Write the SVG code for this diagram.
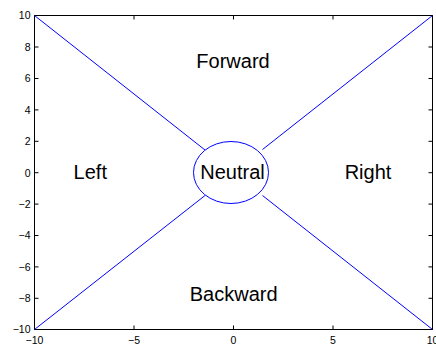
<svg xmlns="http://www.w3.org/2000/svg" width="436" height="347" viewBox="0 0 436 347">
<style>
.tk{font-family:"Liberation Sans",Arial,sans-serif;font-size:10.5px;fill:#000}
.yl{text-anchor:end}
.xl{text-anchor:middle}
.lb{font-family:"Liberation Sans",Arial,sans-serif;font-size:20px;fill:#000;text-anchor:middle}
.ln{stroke:#0000ff;stroke-width:1;fill:none}
.ax{stroke:#000;stroke-width:1;fill:none}
</style>
<rect width="436" height="347" fill="#fff"/>
<g id="axes">
<rect class="ax" x="34.5" y="15.5" width="398" height="314"/>
<path class="ax" d="M34.5 47h4M34.5 78.5h4M34.5 109.9h4M34.5 141.3h4M34.5 172.7h4M34.5 204.1h4M34.5 235.5h4M34.5 266.9h4M34.5 298.3h4
M432.5 47h-4M432.5 78.5h-4M432.5 109.9h-4M432.5 141.3h-4M432.5 172.7h-4M432.5 204.1h-4M432.5 235.5h-4M432.5 266.9h-4M432.5 298.3h-4
M134 329.5v-4M233.5 329.5v-4M333 329.5v-4M134 15.5v4M233.5 15.5v4M333 15.5v4"/>
<g class="tk yl">
<text x="30.5" y="19.2">10</text>
<text x="30.5" y="50.8">8</text>
<text x="30.5" y="82.2">6</text>
<text x="30.5" y="113.6">4</text>
<text x="30.5" y="145">2</text>
<text x="30.5" y="176.5">0</text>
<text x="30.5" y="207.9">−2</text>
<text x="30.5" y="239.3">−4</text>
<text x="30.5" y="270.7">−6</text>
<text x="30.5" y="302.1">−8</text>
<text x="30.5" y="333.3">−10</text>
</g>
<g class="tk xl">
<text x="34.5" y="344">−10</text>
<text x="134" y="344">−5</text>
<text x="233.5" y="344">0</text>
<text x="333" y="344">5</text>
<text x="432.5" y="344">10</text>
</g>
</g>
<g id="connectors">
<line class="ln" x1="34.5" y1="15.5" x2="205" y2="150"/>
<line class="ln" x1="432.5" y1="15.5" x2="262.5" y2="149.5"/>
<line class="ln" x1="34.5" y1="329.5" x2="205" y2="195.5"/>
<line class="ln" x1="432.5" y1="329.5" x2="262.5" y2="195.5"/>
</g>
<g id="neutral">
<ellipse class="ln" cx="231" cy="172.5" rx="37.5" ry="31"/>
<text class="lb" x="232.5" y="178.5">Neutral</text>
</g>
<g id="forward"><text class="lb" x="233" y="67.7">Forward</text></g>
<g id="left"><text class="lb" x="90.3" y="179">Left</text></g>
<g id="right"><text class="lb" x="368" y="179">Right</text></g>
<g id="backward"><text class="lb" x="233.7" y="301">Backward</text></g>
</svg>
